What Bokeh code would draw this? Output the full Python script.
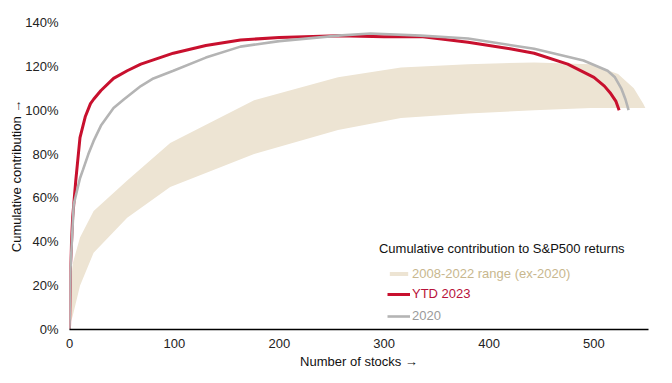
from bokeh.plotting import figure
from bokeh.models import (Range1d, FixedTicker, PrintfTickFormatter, Legend, LegendItem, Label)
from bokeh.embed import file_html
from bokeh.resources import INLINE

# ---- data ----
band_n  = [0, 1, 3, 10, 23, 55, 96, 176, 256, 316, 380, 443, 497, 523, 538, 547, 549]
band_lo = [0, 3, 6, 20, 35, 51, 65, 80, 91, 96.5, 98.5, 100, 101, 101, 101, 101, 101]
band_hi = [0, 18, 30, 42, 54, 68, 85, 104.5, 115, 119.5, 121, 121.8, 121, 116.5, 110, 103, 101]

ytd_n   = [0, 1, 3, 6, 10, 15, 20, 23, 30, 42, 55, 68, 99, 130, 163, 200, 256, 300, 335, 380, 420, 443, 475, 500, 510, 516, 521, 524]
ytd_v   = [0, 30, 51, 68, 87.5, 97, 103, 105, 109, 114.5, 118, 121, 126, 129.5, 132, 133.2, 134, 133.5, 133.6, 131, 128, 126, 121, 115, 111, 107.6, 104, 100]

y20_n   = [0, 1, 4, 10, 13, 18, 23, 30, 42, 52, 68, 80, 99, 130, 163, 200, 256, 287, 335, 380, 443, 490, 513, 520, 526, 530, 533]
y20_v   = [0, 28, 57, 69, 73, 80, 86, 93, 101, 105, 111, 114.5, 118, 124, 129, 131.5, 134, 135, 134, 132.7, 128, 122.7, 118, 115, 110, 105, 100]

x_ticks = [0, 100, 200, 300, 400, 500]
y_ticks = [0, 20, 40, 60, 80, 100, 120, 140]

title_txt = "Cumulative contribution to S&P500 returns"
labels = ["2008-2022 range (ex-2020)", "YTD 2023", "2020"]

BAND = "#ede4d3"
RED = "#c8102e"
GRAY = "#b4b4b4"
FONT = "Liberation Sans"
FS = "13px"

p = figure(width=656, height=375, output_backend="svg", toolbar_location=None,
           x_range=Range1d(0, 552), y_range=Range1d(0, 140),
           min_border_left=69, min_border_right=8, min_border_top=22, min_border_bottom=46)
p.title.visible = False
p.outline_line_color = None
p.xgrid.visible = False
p.ygrid.visible = False

r_band = p.varea(x=band_n, y1=band_lo, y2=band_hi, fill_color=BAND, fill_alpha=1)
r_red = p.line(ytd_n, ytd_v, line_color=RED, line_width=3)
r_gray = p.line(y20_n, y20_v, line_color=GRAY, line_width=2.6)

# axes
p.xaxis.ticker = FixedTicker(ticks=x_ticks)
p.yaxis.ticker = FixedTicker(ticks=y_ticks)
p.yaxis.formatter = PrintfTickFormatter(format="%d%%")
for ax in (p.xaxis[0], p.yaxis[0]):
    ax.major_tick_line_color = None
    ax.minor_tick_line_color = None
    ax.major_tick_out = 0
    ax.major_tick_in = 0
    ax.minor_tick_out = 0
    ax.major_label_text_font = FONT
    ax.major_label_text_font_size = FS
    ax.major_label_text_color = "#222222"
    ax.axis_label_text_font = FONT
    ax.axis_label_text_font_size = FS
    ax.axis_label_text_font_style = "normal"
    ax.axis_label_text_color = "#111111"
p.yaxis.axis_line_color = None
p.xaxis.axis_line_color = "#000000"
p.xaxis.axis_line_width = 1.5
p.xaxis.major_label_standoff = 9
p.yaxis.major_label_standoff = 11
p.xaxis.axis_label = "Number of stocks \u2192"
p.yaxis.axis_label = "Cumulative contribution \u2192"
p.xaxis.axis_label_standoff = 3
p.yaxis.axis_label_standoff = -2

# legend title
p.add_layout(Label(x=295, y=36.9, text=title_txt, text_font=FONT, text_font_size=FS,
                   text_color="#111111", text_baseline="middle", text_align="left"))

def add_leg(label, rend, color, loc, gh):
    lg = Legend(items=[LegendItem(label=label, renderers=[rend])], location=loc,
                orientation="vertical", padding=0, margin=0, spacing=0,
                border_line_color=None, background_fill_alpha=0,
                glyph_width=23, glyph_height=gh, label_height=14, label_standoff=2,
                label_text_font=FONT, label_text_font_size=FS, label_text_color=color)
    p.add_layout(lg, "center")

add_leg(labels[0], r_band, "#c8b78e", (318, 48), 5)
add_leg(labels[1], r_red, "#b8123a", (318, 28), 14)
add_leg(labels[2], r_gray, "#9a9a9a", (318, 6), 14)

open("out.html", "w").write(file_html(p, INLINE))
